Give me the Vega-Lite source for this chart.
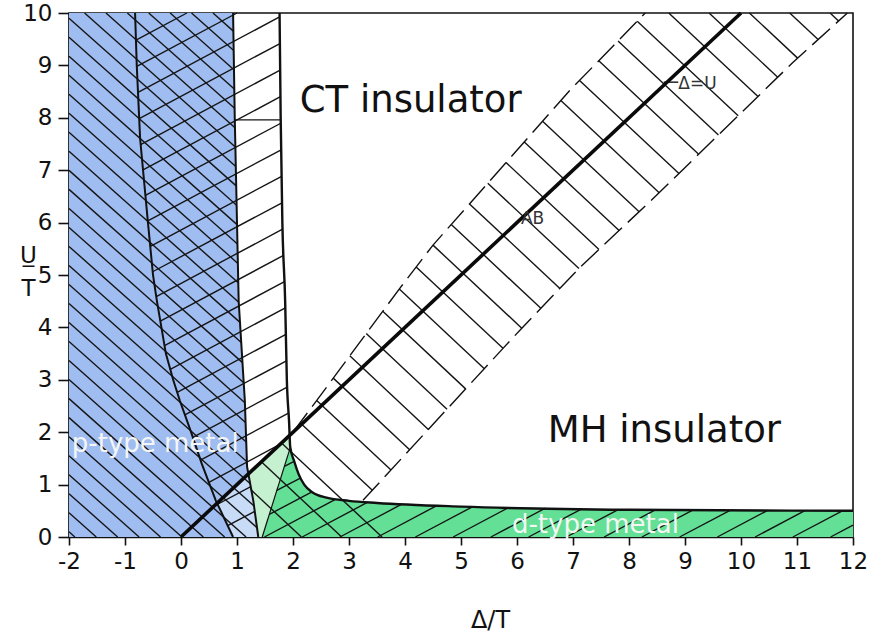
{
  "$schema": "https://vega.github.io/schema/vega-lite/v6.json",
  "width": 784,
  "height": 524,
  "autosize": {"type": "none"},
  "padding": {"left": 69, "top": 13, "right": 19, "bottom": 105},
  "background": "white",
  "config": {
    "font": "DejaVu Sans",
    "view": {"stroke": "#111", "strokeWidth": 1.6},
    "axis": {"grid": false, "domainColor": "#111", "tickColor": "#111", "labelColor": "#111", "titleColor": "#111", "domainWidth": 1.6, "tickWidth": 1.6}
  },
  "datasets": {
    "regions": [
      {"r": "blue", "y": 0, "x": -2, "x2": 1.38},
      {"r": "blue", "y": 0.7, "x": -2, "x2": 1.29},
      {"r": "blue", "y": 1.34, "x": -2, "x2": 1.18},
      {"r": "blue", "y": 2.6, "x": -2, "x2": 1.14},
      {"r": "blue", "y": 4.5, "x": -2, "x2": 1.03},
      {"r": "blue", "y": 6, "x": -2, "x2": 1.0},
      {"r": "blue", "y": 8, "x": -2, "x2": 0.96},
      {"r": "blue", "y": 10, "x": -2, "x2": 0.93},
      {"r": "lightblue", "y": 0, "x": 0.93, "x2": 1.38},
      {"r": "lightblue", "y": 0.35, "x": 0.775, "x2": 1.335},
      {"r": "lightblue", "y": 0.645, "x": 0.645, "x2": 1.297},
      {"r": "lightblue", "y": 1.0, "x": 1.0, "x2": 1.24},
      {"r": "lightblue", "y": 1.21, "x": 1.205, "x2": 1.205},
      {"r": "lightgreen", "y": 0, "x": 1.38, "x2": 1.45},
      {"r": "lightgreen", "y": 0.7, "x": 1.29, "x2": 1.656},
      {"r": "lightgreen", "y": 1.21, "x": 1.205, "x2": 1.806},
      {"r": "lightgreen", "y": 1.5, "x": 1.5, "x2": 1.891},
      {"r": "lightgreen", "y": 1.72, "x": 1.72, "x2": 1.95},
      {"r": "lightgreen", "y": 1.93, "x": 1.93, "x2": 1.94},
      {"r": "green", "y": 0, "x": 1.45, "x2": 12},
      {"r": "green", "y": 0.5, "x": 1.597, "x2": 12},
      {"r": "green", "y": 0.52, "x": 1.603, "x2": 8},
      {"r": "green", "y": 0.58, "x": 1.621, "x2": 5},
      {"r": "green", "y": 0.65, "x": 1.641, "x2": 3.5},
      {"r": "green", "y": 0.69, "x": 1.653, "x2": 3.0},
      {"r": "green", "y": 0.75, "x": 1.67, "x2": 2.6},
      {"r": "green", "y": 0.85, "x": 1.7, "x2": 2.35},
      {"r": "green", "y": 1.0, "x": 1.744, "x2": 2.2},
      {"r": "green", "y": 1.2, "x": 1.803, "x2": 2.1},
      {"r": "green", "y": 1.45, "x": 1.876, "x2": 2.02},
      {"r": "green", "y": 1.72, "x": 1.953, "x2": 1.953}
    ],
    "hatch": [
      {"x": -2, "y": 0.1, "x2": -1.895, "y2": 0},
      {"x": -2, "y": 0.463, "x2": -1.513, "y2": 0},
      {"x": -2, "y": 0.826, "x2": -1.131, "y2": 0},
      {"x": -2, "y": 1.189, "x2": -0.748, "y2": 0},
      {"x": -2, "y": 1.552, "x2": -0.366, "y2": 0},
      {"x": -2, "y": 1.915, "x2": 0.016, "y2": 0},
      {"x": -2, "y": 2.278, "x2": 0.398, "y2": 0},
      {"x": -2, "y": 2.641, "x2": 0.78, "y2": 0},
      {"x": -2, "y": 3.004, "x2": 1.162, "y2": 0},
      {"x": -2, "y": 3.367, "x2": 1.357, "y2": 0.178},
      {"x": -2, "y": 3.73, "x2": 1.305, "y2": 0.59},
      {"x": -2, "y": 4.093, "x2": 1.237, "y2": 1.018},
      {"x": -2, "y": 4.456, "x2": 1.178, "y2": 1.437},
      {"x": -2, "y": 4.819, "x2": 1.165, "y2": 1.812},
      {"x": -2, "y": 5.182, "x2": 1.153, "y2": 2.187},
      {"x": -2, "y": 5.545, "x2": 1.141, "y2": 2.561},
      {"x": -2, "y": 5.908, "x2": 1.121, "y2": 2.943},
      {"x": -2, "y": 6.271, "x2": 1.098, "y2": 3.328},
      {"x": -2, "y": 6.634, "x2": 1.077, "y2": 3.711},
      {"x": -2, "y": 6.997, "x2": 1.054, "y2": 4.096},
      {"x": -2, "y": 7.36, "x2": 1.032, "y2": 4.48},
      {"x": -2, "y": 7.723, "x2": 1.023, "y2": 4.851},
      {"x": -2, "y": 8.086, "x2": 1.016, "y2": 5.221},
      {"x": -2, "y": 8.449, "x2": 1.008, "y2": 5.591},
      {"x": -2, "y": 8.812, "x2": 1.001, "y2": 5.961},
      {"x": -2, "y": 9.175, "x2": 0.993, "y2": 6.332},
      {"x": -2, "y": 9.538, "x2": 0.986, "y2": 6.701},
      {"x": -2, "y": 9.901, "x2": 0.979, "y2": 7.071},
      {"x": -1.722, "y": 10, "x2": 0.971, "y2": 7.442},
      {"x": -1.34, "y": 10, "x2": 0.964, "y2": 7.811},
      {"x": -0.958, "y": 10, "x2": 0.957, "y2": 8.181},
      {"x": -0.576, "y": 10, "x2": 0.952, "y2": 8.549},
      {"x": -0.194, "y": 10, "x2": 0.946, "y2": 8.917},
      {"x": 0.188, "y": 10, "x2": 0.941, "y2": 9.285},
      {"x": 0.571, "y": 10, "x2": 0.935, "y2": 9.654},
      {"x": -0.804, "y": 9.482, "x2": 0.105, "y2": 10},
      {"x": -0.789, "y": 8.98, "x2": 1.0, "y2": 10},
      {"x": -0.768, "y": 8.483, "x2": 1.761, "y2": 9.924},
      {"x": -0.746, "y": 7.985, "x2": 1.766, "y2": 9.417},
      {"x": -0.72, "y": 7.49, "x2": 1.77, "y2": 8.909},
      {"x": -0.678, "y": 7.004, "x2": 1.776, "y2": 8.402},
      {"x": -0.635, "y": 6.518, "x2": 1.782, "y2": 7.896},
      {"x": -0.593, "y": 6.032, "x2": 1.789, "y2": 7.39},
      {"x": -0.547, "y": 5.548, "x2": 1.797, "y2": 6.884},
      {"x": -0.506, "y": 5.062, "x2": 1.804, "y2": 6.378},
      {"x": -0.441, "y": 4.589, "x2": 1.814, "y2": 5.874},
      {"x": -0.369, "y": 4.12, "x2": 1.831, "y2": 5.374},
      {"x": -0.294, "y": 3.652, "x2": 1.848, "y2": 4.873},
      {"x": -0.192, "y": 3.201, "x2": 1.863, "y2": 4.372},
      {"x": -0.068, "y": 2.761, "x2": 1.873, "y2": 3.868},
      {"x": 0.069, "y": 2.329, "x2": 1.883, "y2": 3.363},
      {"x": 0.211, "y": 1.902, "x2": 1.896, "y2": 2.861},
      {"x": 0.348, "y": 1.467, "x2": 1.919, "y2": 2.364},
      {"x": 0.497, "y": 1.043, "x2": 1.767, "y2": 1.767},
      {"x": 0.655, "y": 0.625, "x2": 1.246, "y2": 0.96},
      {"x": 0.834, "y": 0.215, "x2": 1.317, "y2": 0.49},
      {"x": 2.127, "y": 2.182, "x2": 3.417, "y2": 0.893},
      {"x": 2.423, "y": 2.607, "x2": 3.75, "y2": 1.28},
      {"x": 2.719, "y": 3.032, "x2": 4.083, "y2": 1.667},
      {"x": 3.014, "y": 3.457, "x2": 4.417, "y2": 2.053},
      {"x": 3.308, "y": 3.882, "x2": 4.75, "y2": 2.44},
      {"x": 3.603, "y": 4.307, "x2": 5.083, "y2": 2.827},
      {"x": 3.898, "y": 4.732, "x2": 5.417, "y2": 3.213},
      {"x": 4.199, "y": 5.151, "x2": 5.75, "y2": 3.6},
      {"x": 4.5, "y": 5.57, "x2": 6.085, "y2": 3.985},
      {"x": 4.826, "y": 5.964, "x2": 6.426, "y2": 4.365},
      {"x": 5.152, "y": 6.357, "x2": 6.766, "y2": 4.744},
      {"x": 5.478, "y": 6.752, "x2": 7.106, "y2": 5.124},
      {"x": 5.804, "y": 7.146, "x2": 7.464, "y2": 5.486},
      {"x": 6.13, "y": 7.54, "x2": 7.823, "y2": 5.848},
      {"x": 6.457, "y": 7.935, "x2": 8.181, "y2": 6.209},
      {"x": 6.783, "y": 8.329, "x2": 8.539, "y2": 6.571},
      {"x": 7.117, "y": 8.714, "x2": 8.892, "y2": 6.938},
      {"x": 7.46, "y": 9.09, "x2": 9.244, "y2": 7.305},
      {"x": 7.804, "y": 9.466, "x2": 9.597, "y2": 7.673},
      {"x": 8.147, "y": 9.843, "x2": 9.95, "y2": 8.04},
      {"x": 8.71, "y": 10, "x2": 10.303, "y2": 8.407},
      {"x": 9.43, "y": 10, "x2": 10.656, "y2": 8.774},
      {"x": 10.15, "y": 10, "x2": 11.011, "y2": 9.139},
      {"x": 10.87, "y": 10, "x2": 11.377, "y2": 9.493},
      {"x": 11.59, "y": 10, "x2": 11.743, "y2": 9.848},
      {"x": 1.8, "y": 1.79, "x2": 3.59, "y2": 0},
      {"x": 1.435, "y": 1.435, "x2": 2.87, "y2": 0},
      {"x": 1.24, "y": 0.91, "x2": 2.15, "y2": 0},
      {"x": 1.577, "y": 0.431, "x2": 2.33, "y2": 0.857},
      {"x": 1.711, "y": 0.888, "x2": 2.14, "y2": 1.13},
      {"x": 1.846, "y": 1.346, "x2": 2.02, "y2": 1.445},
      {"x": 1.49, "y": 0, "x2": 2.75, "y2": 0.713},
      {"x": 2.164, "y": 0, "x2": 3.335, "y2": 0.664},
      {"x": 2.838, "y": 0, "x2": 3.95, "y2": 0.63},
      {"x": 3.512, "y": 0, "x2": 4.57, "y2": 0.6},
      {"x": 4.186, "y": 0, "x2": 5.204, "y2": 0.576},
      {"x": 4.86, "y": 0, "x2": 5.854, "y2": 0.563},
      {"x": 5.534, "y": 0, "x2": 6.506, "y2": 0.55},
      {"x": 6.208, "y": 0, "x2": 7.157, "y2": 0.537},
      {"x": 6.882, "y": 0, "x2": 7.808, "y2": 0.524},
      {"x": 7.556, "y": 0, "x2": 8.471, "y2": 0.518},
      {"x": 8.23, "y": 0, "x2": 9.138, "y2": 0.514},
      {"x": 8.904, "y": 0, "x2": 9.805, "y2": 0.51},
      {"x": 9.578, "y": 0, "x2": 10.474, "y2": 0.507},
      {"x": 10.252, "y": 0, "x2": 11.141, "y2": 0.503},
      {"x": 10.926, "y": 0, "x2": 11.81, "y2": 0.5},
      {"x": 11.6, "y": 0, "x2": 12, "y2": 0.226},
      {"x": 0.96, "y": 7.96, "x2": 1.78, "y2": 7.96},
      {"x": 8.62, "y": 8.68, "x2": 8.88, "y2": 8.68}
    ],
    "bounds": [
      {"id": "L", "o": 0, "x": -0.82, "y": 10},
      {"id": "L", "o": 1, "x": -0.79, "y": 9},
      {"id": "L", "o": 2, "x": -0.73, "y": 7.6},
      {"id": "L", "o": 3, "x": -0.59, "y": 6},
      {"id": "L", "o": 4, "x": -0.5, "y": 5},
      {"id": "L", "o": 5, "x": -0.43, "y": 4.5},
      {"id": "L", "o": 6, "x": -0.27, "y": 3.5},
      {"id": "L", "o": 7, "x": -0.14, "y": 3},
      {"id": "L", "o": 8, "x": -0.02, "y": 2.6},
      {"id": "L", "o": 9, "x": 0.18, "y": 2},
      {"id": "L", "o": 10, "x": 0.37, "y": 1.4},
      {"id": "L", "o": 11, "x": 0.62, "y": 0.7},
      {"id": "L", "o": 12, "x": 0.93, "y": 0},
      {"id": "E", "o": 0, "x": 0.93, "y": 10},
      {"id": "E", "o": 1, "x": 0.96, "y": 8},
      {"id": "E", "o": 2, "x": 1.0, "y": 6},
      {"id": "E", "o": 3, "x": 1.03, "y": 4.5},
      {"id": "E", "o": 4, "x": 1.14, "y": 2.6},
      {"id": "E", "o": 5, "x": 1.18, "y": 1.34},
      {"id": "E", "o": 6, "x": 1.29, "y": 0.7},
      {"id": "E", "o": 7, "x": 1.38, "y": 0},
      {"id": "C", "o": 0, "x": 1.76, "y": 10},
      {"id": "C", "o": 1, "x": 1.78, "y": 8},
      {"id": "C", "o": 2, "x": 1.81, "y": 6},
      {"id": "C", "o": 3, "x": 1.86, "y": 4.5},
      {"id": "C", "o": 4, "x": 1.89, "y": 3},
      {"id": "C", "o": 5, "x": 1.93, "y": 2.2},
      {"id": "C", "o": 6, "x": 1.95, "y": 1.72},
      {"id": "C", "o": 7, "x": 2.02, "y": 1.45},
      {"id": "C", "o": 8, "x": 2.1, "y": 1.2},
      {"id": "C", "o": 9, "x": 2.2, "y": 1.0},
      {"id": "C", "o": 10, "x": 2.35, "y": 0.85},
      {"id": "C", "o": 11, "x": 2.6, "y": 0.75},
      {"id": "C", "o": 12, "x": 3.0, "y": 0.69},
      {"id": "C", "o": 13, "x": 3.5, "y": 0.65},
      {"id": "C", "o": 14, "x": 5, "y": 0.58},
      {"id": "C", "o": 15, "x": 8, "y": 0.52},
      {"id": "C", "o": 16, "x": 12, "y": 0.5},
      {"id": "D", "o": 0, "x": 1.45, "y": 0},
      {"id": "D", "o": 1, "x": 1.95, "y": 1.7},
      {"id": "U", "o": 0, "x": 2.0, "y": 2.0},
      {"id": "U", "o": 1, "x": 2.6, "y": 2.86},
      {"id": "U", "o": 2, "x": 3.91, "y": 4.75},
      {"id": "U", "o": 3, "x": 4.5, "y": 5.57},
      {"id": "U", "o": 4, "x": 6.95, "y": 8.53},
      {"id": "U", "o": 5, "x": 8.29, "y": 10},
      {"id": "W", "o": 0, "x": 3.25, "y": 0.7},
      {"id": "W", "o": 1, "x": 5.75, "y": 3.6},
      {"id": "W", "o": 2, "x": 6.09, "y": 3.99},
      {"id": "W", "o": 3, "x": 7.13, "y": 5.15},
      {"id": "W", "o": 4, "x": 8.5, "y": 6.53},
      {"id": "W", "o": 5, "x": 10.93, "y": 9.06},
      {"id": "W", "o": 6, "x": 11.9, "y": 10},
      {"id": "T", "o": 0, "x": 0, "y": 0},
      {"id": "T", "o": 1, "x": 10, "y": 10}
    ]
  },
  "encoding": {
    "x": {
      "field": "x", "type": "quantitative", "stack": null,
      "scale": {"domain": [-2, 12], "nice": false, "zero": false},
      "axis": {
        "values": [-2, -1, 0, 1, 2, 3, 4, 5, 6, 7, 8, 9, 10, 11, 12],
        "labelExpr": "'' + datum.value",
        "labelFontSize": 23, "labelPadding": 5, "labelFlush": false, "labelOverlap": false,
        "tickSize": 8,
        "title": "Δ/T", "titleFontSize": 24, "titleFontWeight": "normal",
        "titleX": 421, "titleY": 90, "titleAlign": "center", "titleBaseline": "alphabetic", "titleAnchor": null
      }
    },
    "y": {
      "field": "y", "type": "quantitative", "stack": null,
      "scale": {"domain": [0, 10], "nice": false, "zero": false},
      "axis": {
        "values": [0, 1, 2, 3, 4, 5, 6, 7, 8, 9, 10],
        "labelFontSize": 23, "labelPadding": 6, "labelFlush": false, "labelOverlap": false,
        "tickSize": 11,
        "title": ["U̲", "T"], "titleAngle": 0, "titleFontSize": 23, "titleFontWeight": "normal",
        "titleLineHeight": 33, "titleX": -41, "titleY": 249, "titleAlign": "center", "titleBaseline": "alphabetic", "titleAnchor": null
      }
    }
  },
  "layer": [
    {"data": {"name": "regions"}, "transform": [{"filter": "datum.r === 'blue'"}],
     "mark": {"type": "area", "orient": "horizontal", "color": "#a0bdf2", "opacity": 1},
     "encoding": {"x2": {"field": "x2"}}},
    {"data": {"name": "regions"}, "transform": [{"filter": "datum.r === 'lightblue'"}],
     "mark": {"type": "area", "orient": "horizontal", "color": "#c8dbf7", "opacity": 1},
     "encoding": {"x2": {"field": "x2"}}},
    {"data": {"name": "regions"}, "transform": [{"filter": "datum.r === 'lightgreen'"}],
     "mark": {"type": "area", "orient": "horizontal", "color": "#c6f1d1", "opacity": 1},
     "encoding": {"x2": {"field": "x2"}}},
    {"data": {"name": "regions"}, "transform": [{"filter": "datum.r === 'green'"}],
     "mark": {"type": "area", "orient": "horizontal", "color": "#63e095", "opacity": 1},
     "encoding": {"x2": {"field": "x2"}}},
    {"data": {"name": "hatch"},
     "mark": {"type": "rule", "color": "#151515", "strokeWidth": 1.4},
     "encoding": {"x2": {"field": "x2"}, "y2": {"field": "y2"}}},
    {"data": {"name": "bounds"}, "transform": [{"filter": "datum.id === 'L' || datum.id === 'E'"}],
     "mark": {"type": "line", "color": "#111", "strokeWidth": 2},
     "encoding": {"detail": {"field": "id"}, "order": {"field": "o", "type": "quantitative"}}},
    {"data": {"name": "bounds"}, "transform": [{"filter": "datum.id === 'C'"}],
     "mark": {"type": "line", "color": "#111", "strokeWidth": 2.4, "interpolate": "monotone"},
     "encoding": {"order": {"field": "o", "type": "quantitative"}}},
    {"data": {"name": "bounds"}, "transform": [{"filter": "datum.id === 'D'"}],
     "mark": {"type": "line", "color": "#111", "strokeWidth": 1.2},
     "encoding": {"order": {"field": "o", "type": "quantitative"}}},
    {"data": {"name": "bounds"}, "transform": [{"filter": "datum.id === 'U' || datum.id === 'W'"}],
     "mark": {"type": "line", "color": "#111", "strokeWidth": 1.4, "strokeDash": [24, 8]},
     "encoding": {"detail": {"field": "id"}, "order": {"field": "o", "type": "quantitative"}}},
    {"data": {"name": "bounds"}, "transform": [{"filter": "datum.id === 'T'"}],
     "mark": {"type": "line", "color": "#0a0a0a", "strokeWidth": 3.6},
     "encoding": {"order": {"field": "o", "type": "quantitative"}}},
    {"data": {"values": [{"x": 2.12, "y": 8.12, "t": "CT insulator"}, {"x": 6.55, "y": 1.81, "t": "MH insulator"}]},
     "mark": {"type": "text", "align": "left", "baseline": "alphabetic", "fontSize": 37, "color": "#111"},
     "encoding": {"text": {"field": "t"}}},
    {"data": {"values": [{"x": -1.95, "y": 1.62, "t": "p-type metal"}, {"x": 5.91, "y": 0.08, "t": "d-type metal"}]},
     "mark": {"type": "text", "align": "left", "baseline": "alphabetic", "fontSize": 26, "color": "#f4f6f4"},
     "encoding": {"text": {"field": "t"}}},
    {"data": {"values": [{"x": 6.07, "y": 6.07, "t": "AB"}, {"x": 8.88, "y": 8.65, "t": "Δ=U"}]},
     "mark": {"type": "text", "align": "left", "baseline": "middle", "fontSize": 17, "color": "#333"},
     "encoding": {"text": {"field": "t"}}}
  ]
}
